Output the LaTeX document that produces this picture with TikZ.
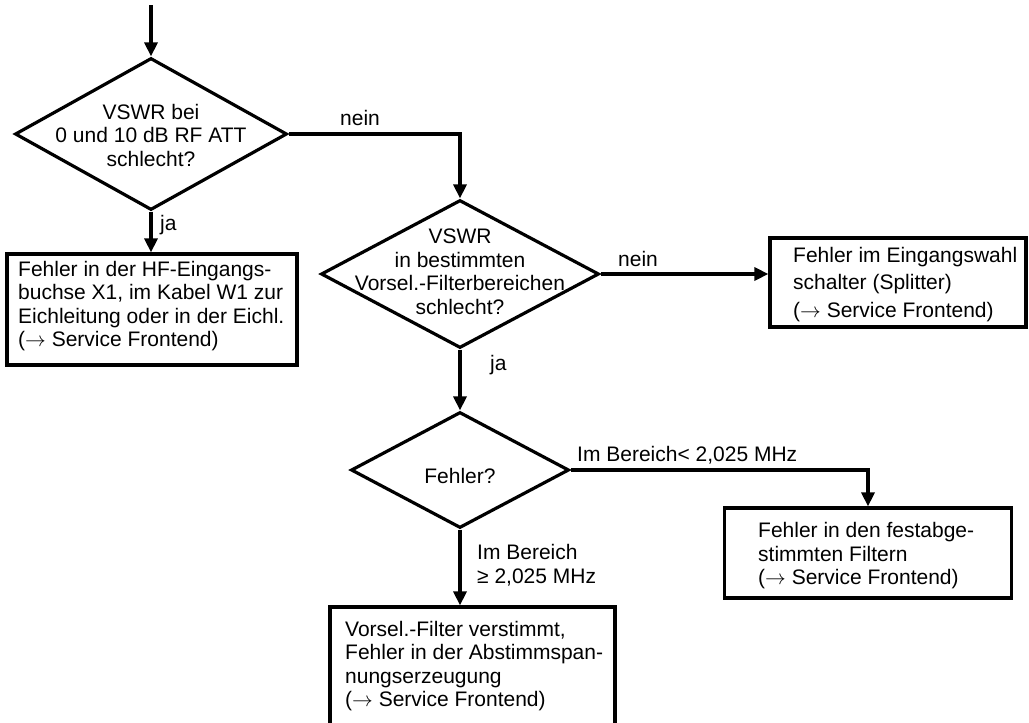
\documentclass[tikz,border=0pt]{standalone}
\usepackage{fontspec}
\setmainfont{Liberation Sans}
\usetikzlibrary{shapes.geometric,arrows.meta,calc}
\begin{document}
\begin{tikzpicture}[x=1pt,y=-1pt,
  every node/.style={font=\fontsize{21}{23.5}\selectfont},
  dec/.style={diamond, draw, line width=3.2pt, inner sep=0pt},
  boxshape/.style={rectangle, draw, line width=3.2pt, inner sep=0pt},
  txt/.style={align=left, inner sep=0pt, anchor=west},
  ctxt/.style={align=center, inner sep=0pt},
  flow/.style={-{Triangle[length=14pt,width=13pt]}, line width=3.2pt},
  lbl/.style={inner sep=0pt, anchor=west}]
\path[fill=white] (0,0) rectangle (1029,723);
\clip (0,0) rectangle (1029,723);

% decisions
\node[dec, minimum width=272pt, minimum height=152pt] (d1) at (151,134) {};
\node[ctxt] (t1) at (151,135) {VSWR bei\\0 und 10 dB RF ATT\\schlecht?};
\node[dec, minimum width=278pt, minimum height=148pt] (d2) at (460,274) {};
\node[ctxt] (t2) at (460,272) {VSWR\\in bestimmten\\Vorsel.-Filterbereichen\\schlecht?};
\node[dec, minimum width=218pt, minimum height=116pt] (d3) at (460,470) {};
\node[ctxt] (t3) at (460,476) {Fehler?};

% boxes
\node[boxshape, minimum width=290pt, minimum height=111pt] (b1) at (152,309.5) {};
\node[txt] (tb1) at (18,306) {Fehler in der HF-Eingangs-\\buchse X1, im Kabel W1 zur\\Eichleitung oder in der Eichl.\\($\rightarrow$ Service Frontend)};
\node[boxshape, minimum width=256pt, minimum height=89pt] (b3) at (898,282.5) {};
\node[txt, font=\fontsize{21}{27.5}\selectfont] (tb3) at (793,284.5) {Fehler im Eingangswahl\\schalter (Splitter)\\($\rightarrow$ Service Frontend)};
\node[boxshape, minimum width=287pt, minimum height=90pt] (b5) at (868,553) {};
\node[txt] (tb5) at (758,556) {Fehler in den festabge-\\stimmten Filtern\\($\rightarrow$ Service Frontend)};
\node[boxshape, minimum width=285pt, minimum height=133pt] (b4) at (472.5,673.5) {};
\node[txt] (tb4) at (345,666) {Vorsel.-Filter verstimmt,\\Fehler in der Abstimmspan-\\nungserzeugung\\($\rightarrow$ Service Frontend)};

% connectors
\coordinate (start) at (151,5);
\draw[flow] (start) -- (d1.north);
\draw[flow] (d1.south) -- (d1.south |- b1.north);
\draw[flow] (d1.east) -| (d2.north);
\draw[flow] (d2.east) -- (d2.east -| b3.west);
\draw[flow] (d2.south) -- (d3.north);
\draw[flow] (d3.east) -| (b5.north);
\draw[flow] (d3.south) -- (d3.south |- b4.north);

% labels
\node[lbl] (l1) at (160,225) {ja};
\node[lbl] (l2) at (340,118) {nein};
\node[lbl] (l3) at (618,259) {nein};
\node[lbl] (l4) at (490,365) {ja};
\node[lbl] (l5) at (577,455) {Im Bereich< 2,025 MHz};
\node[lbl, align=left] (l6) at (477,565) {Im Bereich\\≥ 2,025 MHz};
\end{tikzpicture}
\end{document}
